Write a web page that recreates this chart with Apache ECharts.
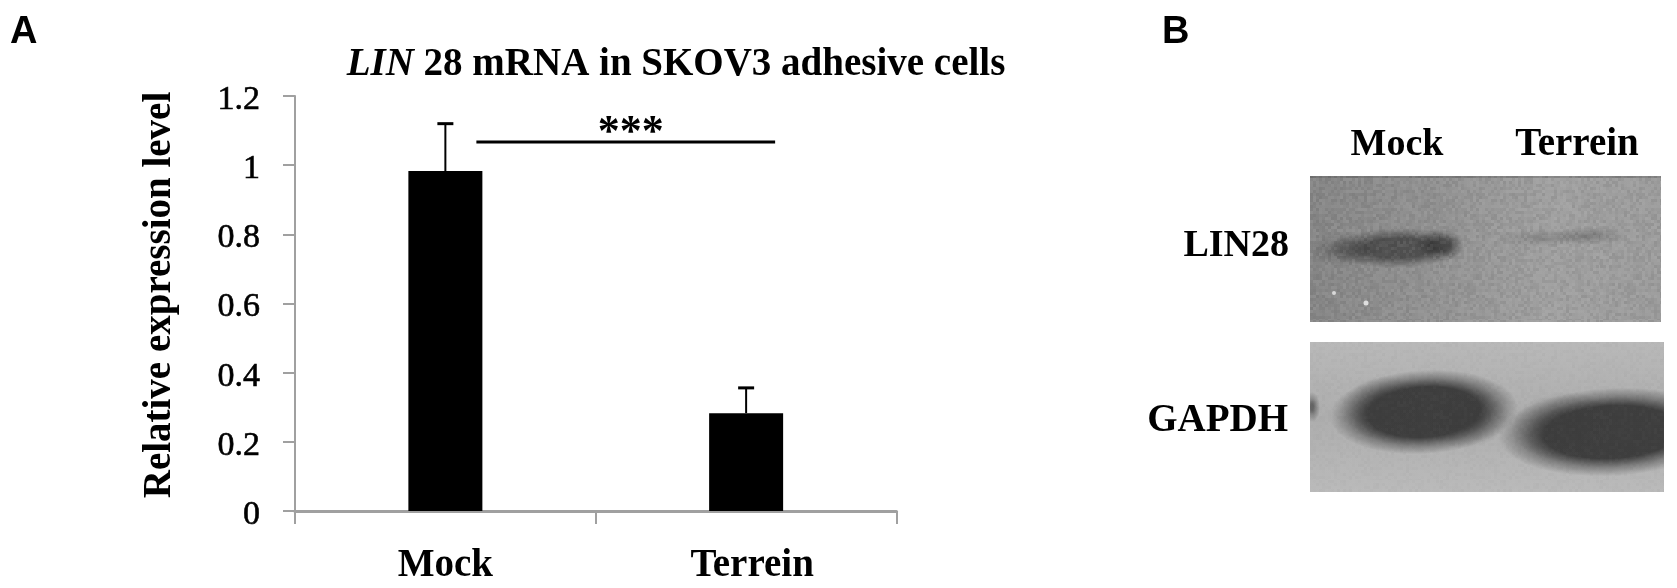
<!DOCTYPE html>
<html>
<head>
    <title>LIN 28 mRNA in SKOV3 adhesive cells</title>
    <script src="https://cdn.jsdelivr.net/npm/echarts@6/dist/echarts.min.js"></script>
    <style>
        html, body { margin: 0; padding: 0; background: #fff; }
        #chart { width: 1677px; height: 588px; }
    </style>
</head>
<body>
    <div id="chart"></div>

    <script>
        const categories = ['Mock', 'Terrein'];
        const expression = [0.983, 0.283];
        const errorTop = [1.12, 0.356];
        const sigLevel = 1.067;
        const sigLabel = '***';
        const yTicks = { min: 0, max: 1.2, step: 0.2 };
        const blotLanes = ['Mock', 'Terrein'];
        const blotRows = ['LIN28', 'GAPDH'];

        const SERIF = '"Liberation Serif", "Times New Roman", serif';
        const SANS = '"Liberation Sans", Arial, sans-serif';

        // film grain for the blots, a fixed hash so the page is the same every time
        function grainTile() {
            const size = 160;
            const tile = document.createElement('canvas');
            tile.width = tile.height = size;
            const ctx = tile.getContext('2d');
            for (let y = 0; y < size; y += 3) {
                for (let x = 0; x < size; x += 3) {
                    const h = Math.abs(Math.sin(x * 12.9898 + y * 78.233) * 43758.5453) % 1;
                    ctx.fillStyle = h > 0.5
                        ? `rgba(255,255,255,${(h - 0.5) * 0.14})`
                        : `rgba(0,0,0,${(0.5 - h) * 0.14})`;
                    ctx.fillRect(x, y, 3, 3);
                }
            }
            return tile;
        }

        // soft band: unit circle with radial fade, stretched into an ellipse
        function band(x, y, rx, ry, rotation, color, hold) {
            const clear = color.replace(/[\d.]+\)$/, '0)');
            const alpha = parseFloat(color.match(/([\d.]+)\)$/)[1]);
            const half = color.replace(/[\d.]+\)$/, (alpha * 0.45) + ')');
            return {
                type: 'circle',
                silent: true,
                x, y,
                scaleX: rx,
                scaleY: ry,
                rotation,
                shape: { r: 1 },
                style: {
                    fill: {
                        type: 'radial', x: 0.5, y: 0.5, r: 0.5,
                        colorStops: [
                            { offset: 0, color },
                            { offset: hold, color },
                            { offset: (hold + 1) / 2, color: half },
                            { offset: 1, color: clear }
                        ]
                    }
                }
            };
        }

        function label(text, x, y, align, size, font) {
            return {
                type: 'text', x, y, silent: true,
                style: {
                    text, fill: '#000',
                    font: `bold ${size}px ${font || SERIF}`,
                    align, verticalAlign: 'middle'
                }
            };
        }

        function blotGraphics() {
            const grain = { image: grainTile(), repeat: 'repeat' };
            return [
                label('A', 10, 33, 'left', 38, SANS),
                label('B', 1162, 33, 'left', 38, SANS),
                label(blotLanes[0], 1397, 145, 'center', 38),
                label(blotLanes[1], 1577, 145, 'center', 39),
                label(blotRows[0], 1289, 246, 'right', 38),
                label(blotRows[1], 1288, 421, 'right', 39),

                // LIN28 blot
                { type: 'rect', silent: true, shape: { x: 1310, y: 176, width: 351, height: 146 },
                  style: { fill: { type: 'linear', x: 0, y: 0, x2: 1, y2: 0.2, colorStops: [
                      { offset: 0, color: '#858585' }, { offset: 0.35, color: '#919191' },
                      { offset: 0.7, color: '#a0a0a0' }, { offset: 1, color: '#9c9c9c' }] } } },
                band(1345, 250, 36, 17, 0, 'rgba(60,60,60,0.45)', 0.2),
                band(1398, 248, 68, 20, 0.02, 'rgba(55,55,55,0.7)', 0.5),
                band(1440, 245, 24, 16, 0, 'rgba(40,40,40,0.55)', 0.4),
                band(1545, 238, 48, 9, 0, 'rgba(90,90,90,0.3)', 0.2),
                band(1590, 236, 36, 9, 0, 'rgba(80,80,80,0.4)', 0.2),
                { type: 'rect', silent: true, shape: { x: 1310, y: 176, width: 351, height: 2 }, style: { fill: 'rgba(70,70,70,0.3)' } },
                { type: 'rect', silent: true, shape: { x: 1310, y: 176, width: 351, height: 146 }, style: { fill: grain } },
                { type: 'circle', silent: true, shape: { cx: 1334, cy: 293, r: 2 }, style: { fill: '#d8d8d8' } },
                { type: 'circle', silent: true, shape: { cx: 1366, cy: 303, r: 2.5 }, style: { fill: '#dedede' } },

                // GAPDH blot
                { type: 'rect', silent: true, shape: { x: 1310, y: 342, width: 354, height: 150 },
                  style: { fill: { type: 'linear', x: 0, y: 0, x2: 0, y2: 1, colorStops: [
                      { offset: 0, color: '#b8b8b8' }, { offset: 0.5, color: '#adadad' },
                      { offset: 1, color: '#bababa' }] } } },
                band(1312, 407, 8, 15, 0, 'rgba(70,70,70,0.7)', 0.2),
                band(1424, 412, 94, 42, 0.06, 'rgba(60,60,60,0.98)', 0.6),
                band(1385, 408, 44, 32, 0.05, 'rgba(60,60,60,0.5)', 0.2),
                band(1465, 418, 44, 30, 0.05, 'rgba(60,60,60,0.5)', 0.2),
                band(1612, 432, 114, 44, 0.05, 'rgba(60,60,60,0.98)', 0.6),
                band(1565, 426, 54, 34, 0.06, 'rgba(60,60,60,0.5)', 0.2),
                { type: 'rect', silent: true, shape: { x: 1310, y: 342, width: 354, height: 150 }, style: { fill: grain, opacity: 0.3 } },
                // trims what the bands spill past the film
                { type: 'rect', silent: true, shape: { x: 1664, y: 330, width: 13, height: 170 }, style: { fill: '#fff' } },
                { type: 'rect', silent: true, shape: { x: 1296, y: 342, width: 14, height: 150 }, style: { fill: '#fff' } }
            ];
        }

        const chart = echarts.init(document.getElementById('chart'), null, { renderer: 'canvas' });

        chart.setOption({
            animation: false,
            backgroundColor: '#fff',
            title: {
                text: '{i|LIN} 28 mRNA in SKOV3 adhesive cells',
                left: 671,
                top: 29,
                textAlign: 'center',
                textStyle: {
                    fontFamily: SERIF, fontWeight: 'bold', fontSize: 39, color: '#000',
                    rich: { i: { fontFamily: SERIF, fontWeight: 'bold', fontStyle: 'italic', fontSize: 39, color: '#000' } }
                }
            },
            grid: { left: 295, right: 780.5, top: 96, bottom: 77, outerBoundsMode: 'none' },
            xAxis: {
                type: 'category',
                data: categories,
                axisLine: { lineStyle: { color: '#a0a0a0', width: 3 } },
                axisTick: { show: true, alignWithLabel: false, length: 13, lineStyle: { color: '#a0a0a0', width: 2 } },
                axisLabel: {
                    margin: 24, color: '#000',
                    fontFamily: SERIF, fontWeight: 'bold', fontSize: 39,
                    formatter: v => (v === 'Terrein' ? `{t|${v}}` : v),
                    rich: { t: { fontFamily: SERIF, fontWeight: 'bold', fontSize: 39, color: '#000', padding: [0, 0, 0, 12] } }
                }
            },
            yAxis: {
                type: 'value',
                min: yTicks.min,
                max: yTicks.max,
                interval: yTicks.step,
                name: 'Relative expression level',
                nameLocation: 'middle',
                nameGap: 104,
                nameTextStyle: {
                    fontFamily: SERIF, fontWeight: 'bold', fontSize: 39, color: '#000',
                    padding: [0, 0, 0, 17]
                },
                splitLine: { show: false },
                axisLine: { show: true, onZero: false, lineStyle: { color: '#a0a0a0', width: 2 } },
                axisTick: { show: true, length: 12, lineStyle: { color: '#a0a0a0', width: 2 } },
                axisLabel: {
                    margin: 35,
                    formatter: v => `{a|${+v.toFixed(1)}}`,
                    rich: {
                        a: {
                            fontFamily: SERIF, fontSize: 34, color: '#000',
                            textBorderColor: '#000', textBorderWidth: 0.6,
                            padding: [8, 0, 0, 0]
                        }
                    }
                }
            },
            series: [
                {
                    type: 'bar',
                    data: expression,
                    barWidth: 74,
                    itemStyle: { color: '#000' },
                    z: 3
                },
                {
                    // upper error bars
                    type: 'custom',
                    data: errorTop.map((top, i) => [i, expression[i], top]),
                    encode: { x: 0, y: 2 },
                    z: 4,
                    renderItem(params, api) {
                        const base = api.coord([api.value(0), api.value(1)]);
                        const top = api.coord([api.value(0), api.value(2)]);
                        return {
                            type: 'group',
                            children: [
                                { type: 'line', shape: { x1: base[0], y1: base[1], x2: top[0], y2: top[1] },
                                  style: { stroke: '#000', lineWidth: 2 } },
                                { type: 'line', shape: { x1: top[0] - 8, y1: top[1], x2: top[0] + 8, y2: top[1] },
                                  style: { stroke: '#000', lineWidth: 3 } }
                            ]
                        };
                    }
                },
                {
                    // significance bracket between the two bars
                    type: 'custom',
                    data: [[0, 1, sigLevel]],
                    encode: { x: 0, y: 2 },
                    z: 5,
                    renderItem(params, api) {
                        const a = api.coord([api.value(0), api.value(2)]);
                        const b = api.coord([api.value(1), api.value(2)]);
                        return {
                            type: 'group',
                            children: [
                                { type: 'line', shape: { x1: a[0] + 31, y1: a[1], x2: b[0] + 29, y2: b[1] },
                                  style: { stroke: '#000', lineWidth: 3 } },
                                { type: 'text', x: (a[0] + b[0]) / 2 + 35, y: a[1] + 7,
                                  style: { text: sigLabel, fill: '#000', font: `bold 44px ${SERIF}`,
                                           align: 'center', verticalAlign: 'bottom', lineHeight: 30 } }
                            ]
                        };
                    }
                }
            ],
            graphic: blotGraphics()
        });
    </script>
</body>
</html>
